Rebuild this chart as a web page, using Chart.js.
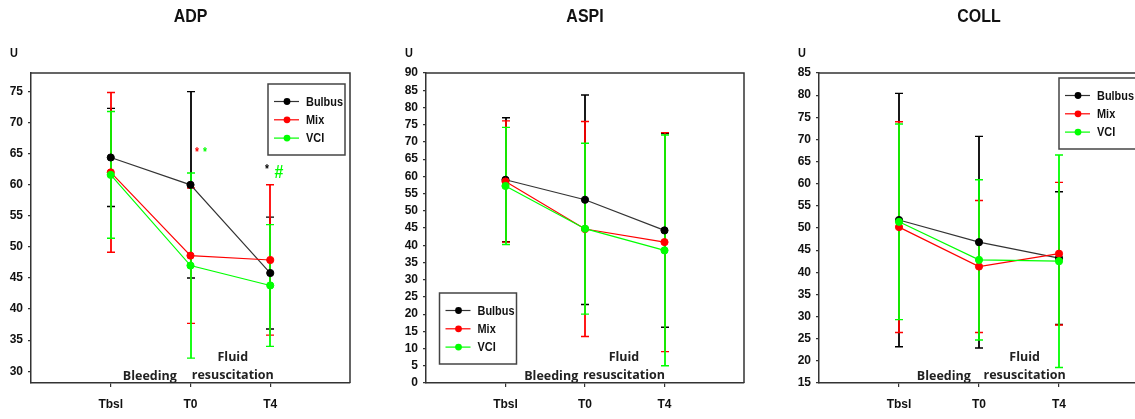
<!DOCTYPE html>
<html>
<head>
<meta charset="utf-8">
<title>ADP / ASPI / COLL</title>
<script src="https://cdn.jsdelivr.net/npm/chart.js@4.4.1/dist/chart.umd.min.js"></script>
<style>
	html, body { margin: 0; padding: 0; background: #fff; }
	#wrap { position: relative; width: 1135px; height: 419px; overflow: hidden; }
	#wrap canvas { position: absolute; top: 0; }
</style>
</head>
<body>
<div id="wrap">
	<canvas id="cADP" width="378" height="419" style="left:0px"></canvas>
	<canvas id="cASPI" width="378" height="419" style="left:378px"></canvas>
	<canvas id="cCOLL" width="400" height="419" style="left:756px"></canvas>
</div>
<script>
// x axis time points and the three groups
const timePoints = ['Tbsl', 'T0', 'T4'];
const groups = ['Bulbus', 'Mix', 'VCI'];

// ADP, U (mean and SD)
const adpBulbus = [64.4, 60.0, 45.8];
const adpBulbusSd = [7.9, 15.0, 9.0];
const adpMix = [62.0, 48.6, 47.9];
const adpMixSd = [12.85, 10.9, 12.1];
const adpVci = [61.6, 47.0, 43.8];
const adpVciSd = [10.2, 14.9, 9.8];
const adpTicks = [30, 35, 40, 45, 50, 55, 60, 65, 70, 75];

// ASPI, U
const aspiBulbus = [59.0, 53.2, 44.3];
const aspiBulbusSd = [18.0, 30.4, 28.1];
const aspiMix = [58.5, 44.7, 40.9];
const aspiMixSd = [17.6, 31.2, 31.8];
const aspiVci = [57.2, 44.8, 38.5];
const aspiVciSd = [17.0, 24.8, 33.5];
const aspiTicks = [0, 5, 10, 15, 20, 25, 30, 35, 40, 45, 50, 55, 60, 65, 70, 75, 80, 85, 90];

// COLL, U
const collBulbus = [51.8, 46.8, 43.2];
const collBulbusSd = [28.6, 23.9, 15.0];
const collMix = [50.2, 41.3, 44.2];
const collMixSd = [23.8, 14.9, 16.1];
const collVci = [51.4, 42.8, 42.5];
const collVciSd = [22.1, 18.1, 24.0];
const collTicks = [15, 20, 25, 30, 35, 40, 45, 50, 55, 60, 65, 70, 75, 80, 85];

// significance marks on ADP
const adpMarkText = ['*', '*', '*', '#'];
const adpMarkGroup = [1, 2, 0, 2];

const groupColors = ['#000000', '#ff0000', '#00ff00'];
const lineColors = ['#333333', '#ff0000', '#00ff00'];
const frameColor = '#333333';
const sans = '"Liberation Sans", Arial, sans-serif';
const tickFont = { family: sans, weight: 'bold', size: 12 };

// condensed text: the original uses a narrow bold face
function narrowText(ctx, text, x, y, size, align)
{
	ctx.save();
	ctx.font = 'bold ' + size + 'px ' + sans;
	ctx.textAlign = align || 'center';
	ctx.textBaseline = 'middle';
	ctx.translate(x, y);
	ctx.scale(0.84, 1);
	ctx.fillText(text, 0, 0);
	ctx.restore();
}

function makePanel(id, cfg)
{
	let series = [cfg.bulbus, cfg.mix, cfg.vci];
	let sds = [cfg.bulbusSd, cfg.mixSd, cfg.vciSd];

	let datasets = series.map((vals, g) => ({
		label: groups[g],
		data: vals.map((v, i) => ({ x: i + 1, y: v })),
		sd: sds[g],
		borderColor: lineColors[g],
		backgroundColor: groupColors[g],
		pointBackgroundColor: groupColors[g],
		pointBorderColor: groupColors[g],
		borderWidth: 1.2,
		pointRadius: 3.6,
		pointBorderWidth: 1,
		// VCI on top, Bulbus underneath
		order: 3 - g
	}));

	let panelPlugin = {
		id: 'panel_' + id,

		// SD bars go under the lines and symbols
		beforeDatasetsDraw: function(chart)
		{
			let ctx = chart.ctx;
			let xs = chart.scales.x, ys = chart.scales.y;
			ctx.save();
			chart.data.datasets.forEach((ds, g) => {
				ctx.strokeStyle = groupColors[g];
				ds.data.forEach((p, i) => {
					let x = Math.round(xs.getPixelForValue(p.x));
					let top = ys.getPixelForValue(p.y + ds.sd[i]);
					let bot = ys.getPixelForValue(p.y - ds.sd[i]);
					ctx.lineWidth = 1.8;
					ctx.beginPath();
					ctx.moveTo(x, top); ctx.lineTo(x, bot);
					ctx.stroke();
					ctx.lineWidth = 1.4;
					ctx.beginPath();
					ctx.moveTo(x - 4, top); ctx.lineTo(x + 4, top);
					ctx.moveTo(x - 4, bot); ctx.lineTo(x + 4, bot);
					ctx.stroke();
				});
			});
			ctx.restore();
		},

		afterDraw: function(chart)
		{
			let ctx = chart.ctx;
			let a = chart.chartArea;
			let xs = chart.scales.x, ys = chart.scales.y;
			ctx.save();

			// top and right sides of the frame
			ctx.strokeStyle = frameColor;
			ctx.lineWidth = 1.5;
			ctx.beginPath();
			ctx.moveTo(a.left, a.top); ctx.lineTo(a.right, a.top); ctx.lineTo(a.right, a.bottom);
			ctx.stroke();

			// title and unit
			ctx.fillStyle = '#111';
			narrowText(ctx, cfg.title, (a.left + a.right) / 2, 17, 19);
			narrowText(ctx, 'U', a.left - 17, 53, 13);

			// phase labels
			ctx.fillStyle = '#222';
			ctx.textAlign = 'center';
			ctx.textBaseline = 'middle';
			ctx.font = 'bold 12.5px "Open Sans", sans-serif';
			ctx.fillText('Bleeding', xs.getPixelForValue(cfg.bleedX), a.bottom - 7);
			ctx.fillText('Fluid', xs.getPixelForValue(cfg.fluidX), a.bottom - 26);
			ctx.fillText('resuscitation', xs.getPixelForValue(cfg.fluidX), a.bottom - 8);

			// significance marks
			(cfg.marks || []).forEach((m, k) => {
				ctx.fillStyle = groupColors[adpMarkGroup[k]];
				narrowText(ctx, adpMarkText[k], xs.getPixelForValue(m.x), ys.getPixelForValue(m.y), m.size);
			});

			// legend box
			let lx = cfg.legend.fromRight ? a.right - cfg.legend.dx : a.left + cfg.legend.dx;
			let ly = cfg.legend.fromBottom ? a.bottom - cfg.legend.dy : a.top + cfg.legend.dy;
			ctx.fillStyle = '#fff';
			ctx.fillRect(lx, ly, 77, 71);
			ctx.strokeStyle = '#444';
			ctx.lineWidth = 1.5;
			ctx.strokeRect(lx, ly, 77, 71);
			groups.forEach((name, g) => {
				let ry = ly + 17.5 + g * 18.3;
				ctx.strokeStyle = lineColors[g];
				ctx.lineWidth = 1.2;
				ctx.beginPath();
				ctx.moveTo(lx + 6, ry); ctx.lineTo(lx + 31, ry);
				ctx.stroke();
				ctx.fillStyle = groupColors[g];
				ctx.beginPath();
				ctx.arc(lx + 19, ry, 3.4, 0, Math.PI * 2);
				ctx.fill();
				ctx.fillStyle = '#111';
				narrowText(ctx, name, lx + 38, ry + 0.5, 13, 'left');
			});

			ctx.restore();
		}
	};

	return new Chart(document.getElementById(id), {
		type: 'line',
		data: { datasets: datasets },
		options: {
			responsive: false,
			animation: false,
			devicePixelRatio: 1,
			layout: { padding: { top: 73, left: 0, right: cfg.padRight, bottom: 0 } },
			plugins: {
				legend: { display: false },
				title: { display: false },
				tooltip: { enabled: false }
			},
			scales: {
				x: {
					type: 'linear',
					min: 0,
					max: 4,
					afterBuildTicks: (s) => { s.ticks = timePoints.map((t, i) => ({ value: i + 1 })); },
					afterFit: (s) => { s.height = 36; },
					grid: { drawOnChartArea: false, tickLength: 4, color: frameColor, lineWidth: 1.2 },
					border: { color: frameColor, width: 1.5 },
					ticks: {
						padding: 10,
						color: '#111',
						font: tickFont,
						maxRotation: 0,
						autoSkip: false,
						callback: (v) => timePoints[v - 1]
					}
				},
				y: {
					min: cfg.min,
					max: cfg.max,
					afterBuildTicks: (s) => { s.ticks = cfg.ticks.map(v => ({ value: v })); },
					afterFit: (s) => { s.width = cfg.axisWidth; },
					grid: { drawOnChartArea: false, tickLength: 3, color: frameColor, lineWidth: 1.2 },
					border: { color: frameColor, width: 1.5 },
					ticks: { padding: 5, color: '#111', font: tickFont, autoSkip: false }
				}
			}
		},
		plugins: [panelPlugin]
	});
}

makePanel('cADP', {
	title: 'ADP',
	bulbus: adpBulbus, bulbusSd: adpBulbusSd,
	mix: adpMix, mixSd: adpMixSd,
	vci: adpVci, vciSd: adpVciSd,
	ticks: adpTicks, min: 28.1, max: 78,
	axisWidth: 31, padRight: 28,
	bleedX: 1.49, fluidX: 2.53,
	legend: { fromRight: true, dx: 82, dy: 11 },
	marks: [
		{ x: 2.08, y: 65.2, size: 12 },
		{ x: 2.18, y: 65.2, size: 12 },
		{ x: 2.96, y: 62.4, size: 12 },
		{ x: 3.11, y: 61.9, size: 19 }
	]
});

makePanel('cASPI', {
	title: 'ASPI',
	bulbus: aspiBulbus, bulbusSd: aspiBulbusSd,
	mix: aspiMix, mixSd: aspiMixSd,
	vci: aspiVci, vciSd: aspiVciSd,
	ticks: aspiTicks, min: 0, max: 90,
	axisWidth: 48, padRight: 12,
	bleedX: 1.575, fluidX: 2.49,
	legend: { fromBottom: true, dx: 13.5, dy: 90 }
});

makePanel('cCOLL', {
	title: 'COLL',
	bulbus: collBulbus, bulbusSd: collBulbusSd,
	mix: collMix, mixSd: collMixSd,
	vci: collVci, vciSd: collVciSd,
	ticks: collTicks, min: 15, max: 85,
	axisWidth: 63, padRight: 17,
	bleedX: 1.56, fluidX: 2.57,
	legend: { fromRight: true, dx: 80, dy: 5 }
});
</script>
</body>
</html>
